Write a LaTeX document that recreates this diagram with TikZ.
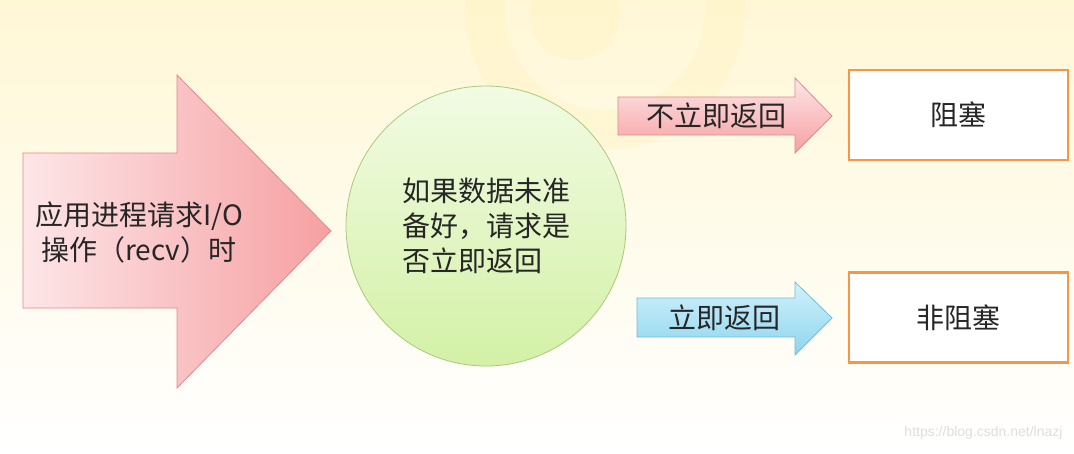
\documentclass[tikz,border=0pt]{standalone}
\usepackage{fontspec}
\setmainfont{Noto Sans CJK SC}
\newfontfamily\markfont{Liberation Sans}
\definecolor{bgyellow}{HTML}{FFF7D6}
\definecolor{ringyellow}{HTML}{FFF1B8}
\definecolor{boxorange}{HTML}{F79646}
\definecolor{pinkA}{HTML}{FDE6E8}
\definecolor{pinkB}{HTML}{F6A0A2}
\definecolor{pinkedge}{HTML}{DE8A8C}
\definecolor{blueA}{HTML}{D2F1FB}
\definecolor{blueB}{HTML}{8DD5EF}
\definecolor{blueedge}{HTML}{6CBFDA}
\definecolor{greenA}{HTML}{F2FBE4}
\definecolor{greenB}{HTML}{D3F1A6}
\definecolor{greenedge}{HTML}{A9C97E}
\begin{document}
\begin{tikzpicture}[x=1pt,y=-1pt,
    lbl/.style={font=\fontsize{28}{35}\selectfont, text=black!85},
    result/.style={lbl, draw=boxorange, line width=2.5pt, fill=white,
      minimum width=219pt, minimum height=90pt}]
  \useasboundingbox (0,0) rectangle (1074,453);
  \fill[top color=bgyellow, bottom color=white] (0,0) rectangle (1074,453);
  \begin{scope}[ringyellow, opacity=0.3]
    \draw[line width=40pt] (605,10) circle (120);
    \fill (575,15) circle (45);
  \end{scope}
  \draw[left color=pinkA, right color=pinkB, draw=pinkedge, line width=0.8pt]
    (23,153) -- (177,153) -- (177,75) -- (331,231) -- (177,388)
    -- (177,308) -- (23,308) -- cycle;
  \draw[top color=pinkA, bottom color=pinkB, draw=pinkedge, line width=0.8pt]
    (618,97) -- (795,97) -- (795,78) -- (832,116) -- (795,153)
    -- (795,135) -- (618,135) -- cycle;
  \draw[top color=blueA, bottom color=blueB, draw=blueedge, line width=0.8pt]
    (637,298) -- (795,298) -- (795,282) -- (832,318) -- (795,355)
    -- (795,337) -- (637,337) -- cycle;
  \node[lbl, align=center] (request) at (139,232) {应用进程请求I/O\\操作（recv）时};
  \node[lbl, circle, draw=greenedge, line width=0.8pt, top color=greenA,
    bottom color=greenB, minimum size=280pt, inner sep=0pt, align=left]
    (check) at (486,226) {如果数据未准\\备好，请求是\\否立即返回};
  \node[lbl] (notnow) at (716,116) {不立即返回};
  \node[lbl] (now) at (724,318) {立即返回};
  \node[result] (block) at (958.5,115) {阻塞};
  \node[result] (nonblock) at (958.5,317.5) {非阻塞};
  \node[font=\markfont\fontsize{14}{16}\selectfont, text=black!13, anchor=east]
    (mark) at (1066,433) {https://blog.csdn.net/lnazj};
\end{tikzpicture}
\end{document}
